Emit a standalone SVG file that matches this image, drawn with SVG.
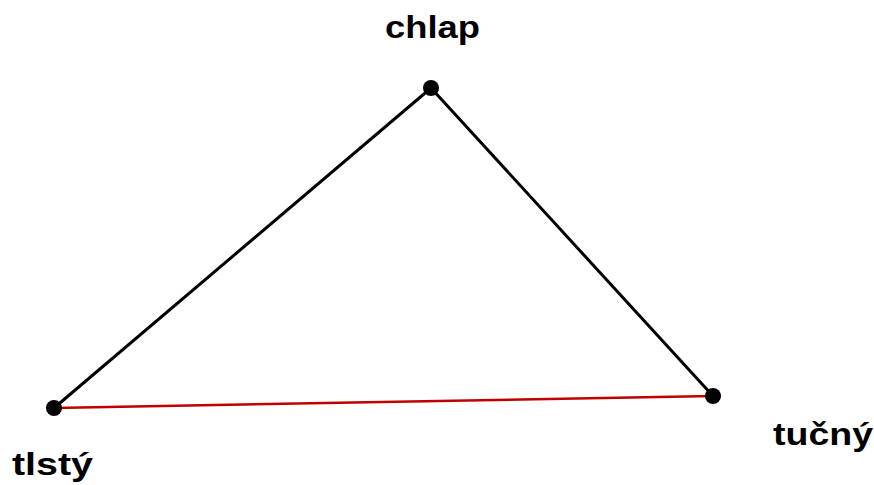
<svg xmlns="http://www.w3.org/2000/svg" width="874" height="485" viewBox="0 0 874 485">
<style>
.lbl{font-family:"Liberation Sans",Arial,sans-serif;font-weight:bold;font-size:31px;fill:#000}
.dot{fill:#000}
.edge{stroke:#000;stroke-width:3;fill:none}
.red{stroke:#c00000;stroke-width:2.5;fill:none}
</style>
<rect width="874" height="485" fill="#fff"/>
<g id="connectors">
<line class="edge" x1="54" y1="408" x2="431" y2="88"/>
<line class="edge" x1="431" y1="88" x2="713" y2="396"/>
<line class="red" x1="54" y1="408" x2="713" y2="396"/>
</g>
<g id="chlap">
<circle class="dot" cx="431" cy="88" r="8"/>
<text class="lbl" x="385" y="38" textLength="95" lengthAdjust="spacingAndGlyphs">chlap</text>
</g>
<g id="tlsty">
<circle class="dot" cx="54" cy="408" r="8"/>
<text class="lbl" x="12" y="475" textLength="81" lengthAdjust="spacingAndGlyphs">tlstý</text>
</g>
<g id="tucny">
<circle class="dot" cx="713" cy="396" r="8"/>
<text class="lbl" x="773" y="445" textLength="100" lengthAdjust="spacingAndGlyphs">tučný</text>
</g>
</svg>
